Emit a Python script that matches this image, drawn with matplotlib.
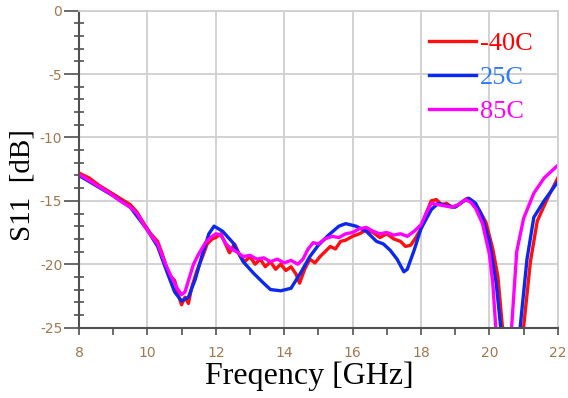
import matplotlib.pyplot as plt
from matplotlib.ticker import MultipleLocator

plt.rcParams['axes.unicode_minus'] = False

# S11 vs frequency at three temperatures
freq_25 = [8.0, 8.5, 9.0, 9.5, 10.0, 10.3, 10.6, 10.8, 11.0, 11.2, 11.4, 11.6, 11.8,
           11.95, 12.2, 12.5, 12.8, 13.1, 13.4, 13.6, 13.9, 14.2, 14.5, 14.75, 15.0,
           15.3, 15.6, 15.8, 16.1, 16.4, 16.7, 16.9, 17.1, 17.3, 17.5, 17.6, 17.8,
           18.0, 18.3, 18.5, 18.8, 19.0, 19.2, 19.4, 19.6, 19.8, 20.0, 20.2, 20.35,
           20.5, 20.7, 20.9, 21.1, 21.3, 21.6, 22.0]
s11_25 = [-13.0, -13.8, -14.6, -15.5, -17.3, -18.6, -20.8, -22.2, -22.9, -22.6, -21.2,
          -19.3, -17.6, -17.0, -17.4, -18.3, -19.8, -20.7, -21.5, -22.0, -22.1, -21.9,
          -20.6, -19.4, -18.5, -17.7, -17.0, -16.8, -17.0, -17.4, -18.2, -18.4, -18.9,
          -19.6, -20.6, -20.4, -18.9, -17.2, -15.7, -15.2, -15.4, -15.5, -15.1, -14.8,
          -15.2, -16.3, -18.2, -21.5, -25.5, -33.0, -30.0, -25.0, -19.6, -16.3, -15.0,
          -13.5]

freq_m40 = [8.0, 8.3, 8.6, 8.9, 9.2, 9.5, 9.7, 9.9, 10.1, 10.3, 10.45, 10.6, 10.7, 10.8,
            10.9, 11.0, 11.1, 11.2, 11.3, 11.45, 11.6, 11.75, 11.9, 12.0, 12.15, 12.3,
            12.4, 12.55, 12.7, 12.85, 13.0, 13.15, 13.3, 13.45, 13.6, 13.75, 13.9,
            14.05, 14.2, 14.35, 14.45, 14.6, 14.75, 14.9, 15.05, 15.2, 15.35, 15.5,
            15.65, 15.8, 16.0, 16.2, 16.4, 16.6, 16.8, 17.0, 17.2, 17.4, 17.55, 17.7,
            17.85, 18.0, 18.15, 18.3, 18.45, 18.6, 18.75, 18.9, 19.05, 19.2, 19.35,
            19.5, 19.7, 19.9, 20.1, 20.25, 20.4, 20.55, 20.8, 21.0, 21.2, 21.4, 21.7,
            22.0]
s11_m40 = [-12.8, -13.2, -13.8, -14.3, -14.8, -15.3, -15.9, -16.8, -17.6, -18.2, -19.3,
           -20.6, -21.0, -21.3, -22.4, -23.2, -22.6, -23.1, -21.8, -20.5, -19.5, -18.4,
           -18.0, -17.9, -17.6, -18.5, -19.1, -18.4, -19.3, -19.8, -19.4, -20.0, -19.6,
           -20.2, -19.8, -20.4, -20.0, -20.5, -20.2, -20.8, -21.5, -20.4, -19.6, -19.9,
           -19.4, -19.0, -18.6, -18.8, -18.2, -18.1, -17.8, -17.6, -17.3, -17.5, -17.9,
           -17.6, -18.0, -18.2, -18.6, -18.5, -17.9, -17.2, -16.0, -15.0, -14.9, -15.3,
           -15.2, -15.5, -15.4, -15.1, -14.8, -15.0, -15.7, -16.7, -18.8, -21.0, -25.5,
           -32.0, -31.0, -25.0, -19.8, -16.6, -14.8, -13.2]

freq_85 = [8.0, 8.3, 8.6, 8.9, 9.2, 9.5, 9.7, 9.9, 10.1, 10.3, 10.5, 10.7, 10.85, 11.0,
           11.1, 11.2, 11.35, 11.5, 11.7, 11.85, 12.0, 12.15, 12.3, 12.45, 12.6, 12.8,
           13.0, 13.2, 13.4, 13.6, 13.8, 14.0, 14.2, 14.4, 14.55, 14.7, 14.85, 15.0,
           15.2, 15.4, 15.6, 15.8, 16.0, 16.2, 16.4, 16.6, 16.8, 17.0, 17.2, 17.4,
           17.6, 17.8, 18.0, 18.15, 18.3, 18.5, 18.7, 18.9, 19.1, 19.3, 19.45, 19.6,
           19.8, 20.0, 20.1, 20.2, 20.35, 20.5, 20.65, 20.8, 21.0, 21.3, 21.6, 22.0]
s11_85 = [-12.9, -13.4, -13.9, -14.4, -15.0, -15.5, -16.0, -16.9, -17.7, -18.4, -19.8,
          -21.0, -21.8, -22.4, -22.2, -21.3, -20.0, -19.2, -18.3, -17.9, -17.6, -17.7,
          -18.4, -18.8, -19.0, -19.4, -19.3, -19.6, -19.5, -19.8, -19.6, -19.9, -19.7,
          -20.0, -19.6, -18.8, -18.3, -18.4, -18.0, -17.8, -17.9, -17.6, -17.5, -17.2,
          -17.1, -17.4, -17.6, -17.5, -17.7, -17.6, -17.8, -17.4, -16.9, -16.0, -15.2,
          -15.3, -15.4, -15.5, -15.3, -14.9, -15.1, -15.6, -16.8, -19.2, -21.5, -25.5,
          -32.0, -30.0, -25.0, -19.0, -16.4, -14.4, -13.2, -12.2]

labels = ['-40C', '25C', '85C']
line_colors = ['#ff1010', '#0a28f0', '#ff00ff']
text_colors = ['#ff0000', '#2f7bff', '#ff00ff']

fig = plt.figure(figsize=(5.68, 3.98), dpi=100)
ax = fig.add_axes([0.139, 0.177, 0.843, 0.796])

series = [(freq_m40, s11_m40), (freq_25, s11_25), (freq_85, s11_85)]
for (f, s), lab, c in zip(series, labels, line_colors):
    ax.plot(f, s, color=c, lw=2.4, label=lab, solid_joinstyle='round')

ax.set_xlim(8, 22)
ax.set_ylim(-25, 0)
ax.xaxis.set_major_locator(MultipleLocator(2))
ax.xaxis.set_minor_locator(MultipleLocator(1))
ax.yaxis.set_major_locator(MultipleLocator(5))
ax.yaxis.set_minor_locator(MultipleLocator(1))
ax.grid(True, which='major', color='#cfcfcf', lw=1.3)
ax.set_axisbelow(True)

for side in ['left', 'bottom']:
    ax.spines[side].set_color('#505050')
    ax.spines[side].set_linewidth(1.5)
for side in ['top', 'right']:
    ax.spines[side].set_color('#cfcfcf')
    ax.spines[side].set_linewidth(1.3)

ax.tick_params(axis='x', which='both', direction='out', length=5, width=1.2,
               color='#505050', labelsize=10, labelcolor='#a07850', pad=8)
ax.tick_params(axis='y', which='major', direction='out', length=11, width=1.2,
               color='#505050', labelsize=10, labelcolor='#a07850', pad=1)
ax.tick_params(axis='y', which='minor', direction='inout', length=7, width=1.2,
               color='#505050')
ax.tick_params(top=False, right=False, which='both')

ax.set_xlabel('Freqency [GHz]', family='Liberation Serif', fontsize=23)
ax.set_ylabel('S11  [dB]', family='Liberation Serif', fontsize=21)
ax.xaxis.set_label_coords(0.482, -0.108)
ax.yaxis.set_label_coords(-0.09, 0.45)

leg = ax.legend(loc='upper left', bbox_to_anchor=(0.708, 0.967), frameon=False,
                prop={'family': 'Liberation Serif', 'size': 19},
                handlelength=1.8, handletextpad=0.15, labelspacing=0.4,
                borderaxespad=0)
for t, c in zip(leg.get_texts(), text_colors):
    t.set_color(c)

fig.savefig('out.png', dpi=100)
